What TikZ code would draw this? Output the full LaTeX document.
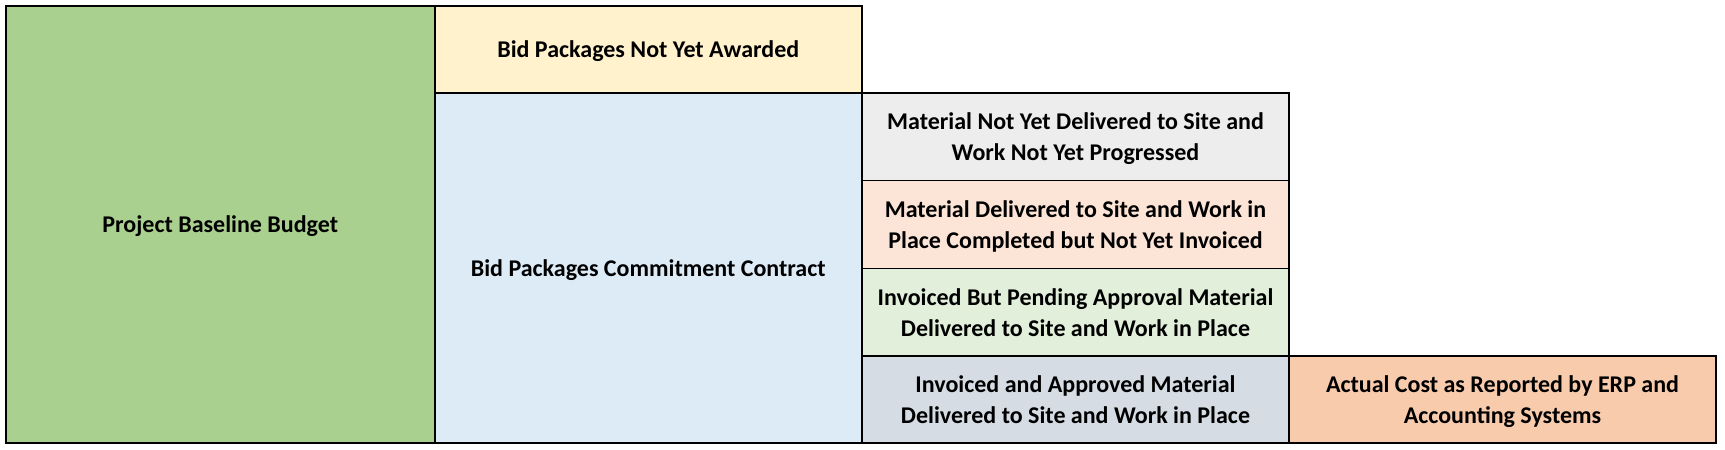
\documentclass[tikz,border=0pt]{standalone}
\usepackage{fontspec}
\setmainfont{Carlito}
\definecolor{cgreen}{HTML}{A9D08E}
\definecolor{cyellow}{HTML}{FFF2CC}
\definecolor{cblue}{HTML}{DDEBF7}
\definecolor{cgray}{HTML}{EDEDED}
\definecolor{cpink}{HTML}{FCE4D6}
\definecolor{clgreen}{HTML}{E2EFDA}
\definecolor{cslate}{HTML}{D6DCE4}
\definecolor{corange}{HTML}{F8CBAD}
\tikzset{
  cellbox/.style={draw=black, line width=1pt, rectangle, inner sep=0pt, outer sep=0pt},
  thinbox/.style={cellbox, line width=0.5pt},
  celltext/.style={inner sep=0pt, align=center, text=black,
    font=\fontsize{12}{15.5}\selectfont\bfseries},
  outline/.style={draw=black, line width=1pt},
}
\begin{document}
\begin{tikzpicture}[x=0.5pt,y=-0.5pt]
\useasboundingbox[fill=white] (0,0) rectangle (1725,450);
% columns 1 and 2
\node[cellbox, fill=cgreen, minimum width=214.25pt, minimum height=218.75pt] (budget) at (220.25,224.25) {};
\node[cellbox, fill=cyellow, minimum width=213.75pt, minimum height=43.5pt] (notawarded) at (648.25,49) {};
\node[cellbox, fill=cblue, minimum width=213.75pt, minimum height=175.25pt] (commit) at (648.25,267.75) {};
% column 3
\node[thinbox, fill=cgray, minimum width=213.5pt, minimum height=44pt] (notdelivered) at (1075.5,136.5) {};
\node[thinbox, fill=cpink, minimum width=213.5pt, minimum height=44pt] (notinvoiced) at (1075.5,224.5) {};
\node[thinbox, fill=clgreen, minimum width=213.5pt, minimum height=43.75pt] (pending) at (1075.5,312.25) {};
\node[cellbox, fill=cslate, minimum width=213.5pt, minimum height=43.5pt] (approved) at (1075.5,399.5) {};
\draw[outline] (notdelivered.north west) rectangle (approved.south east);
% column 4
\node[cellbox, fill=corange, minimum width=213.5pt, minimum height=43.5pt] (actual) at (1502.5,399.5) {};
% texts
\node[celltext] (budgetT) at ([yshift=-1.2pt]budget.center) {\strut Project Baseline Budget};
\node[celltext] (notawardedT) at ([yshift=-1.2pt]notawarded.center) {\strut Bid Packages Not Yet Awarded};
\node[celltext] (commitT) at ([yshift=-1.2pt]commit.center) {\strut Bid Packages Commitment Contract};
\node[celltext] (notdeliveredT) at ([yshift=-1.1pt]notdelivered.center) {\strut Material Not Yet Delivered to Site and\\\strut Work Not Yet Progressed};
\node[celltext] (notinvoicedT) at ([yshift=-1.1pt]notinvoiced.center) {\strut Material Delivered to Site and Work in\\\strut Place Completed but Not Yet Invoiced};
\node[celltext] (pendingT) at ([yshift=-1.1pt]pending.center) {\strut Invoiced But Pending Approval Material\\\strut Delivered to Site and Work in Place};
\node[celltext] (approvedT) at ([yshift=-1.1pt]approved.center) {\strut Invoiced and Approved Material\\\strut Delivered to Site and Work in Place};
\node[celltext] (actualT) at ([yshift=-1.1pt]actual.center) {\strut Actual Cost as Reported by ERP and\\\strut Accounting Systems};
\end{tikzpicture}
\end{document}
